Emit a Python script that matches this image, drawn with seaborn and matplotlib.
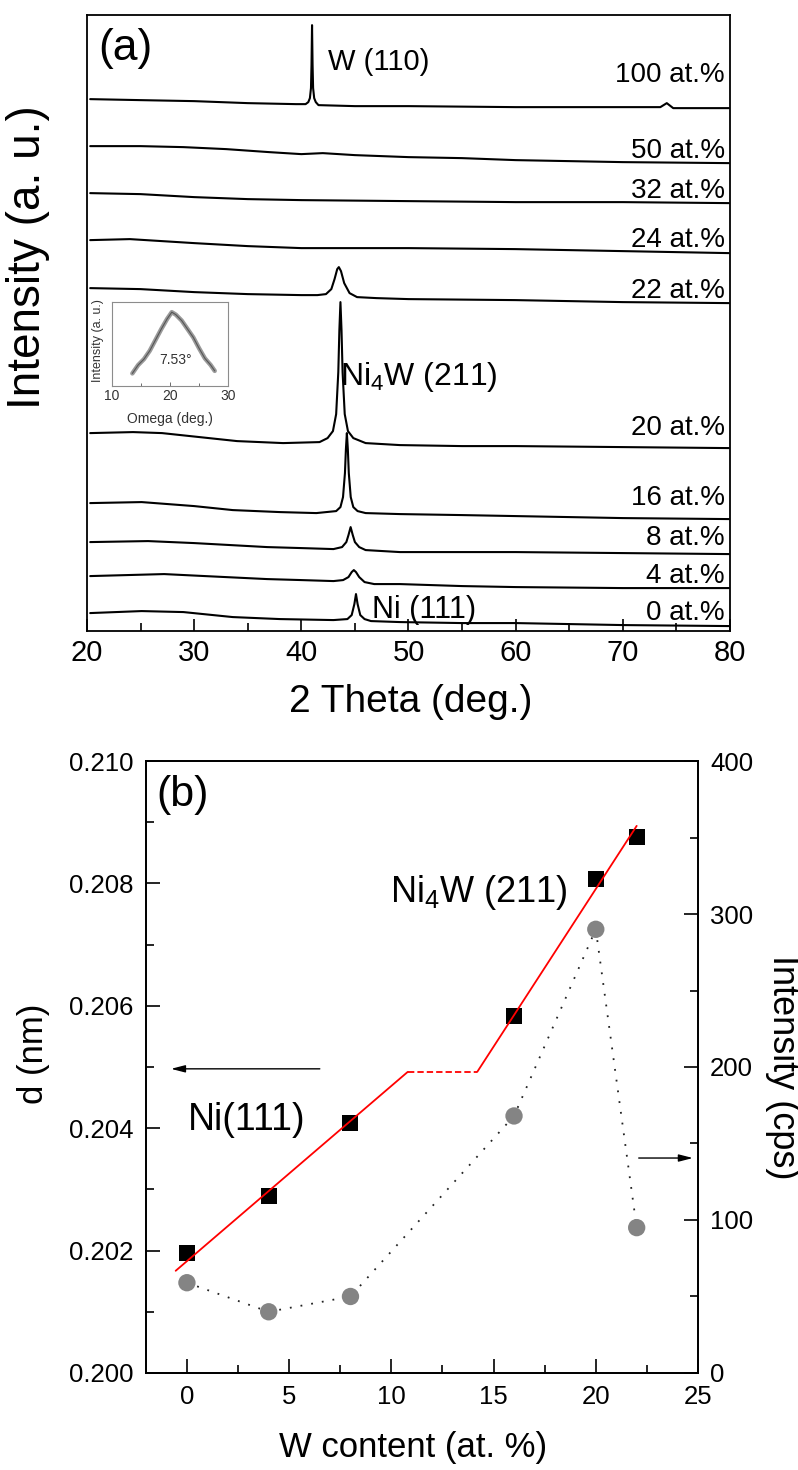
import numpy as np
import matplotlib
matplotlib.use("Agg")
import matplotlib.pyplot as plt
from matplotlib.ticker import MultipleLocator, FormatStrFormatter, NullLocator
import seaborn as sns

# ---------------- (a) XRD patterns, stacked (2 theta in deg., intensity in a.u.) ----------------
theta_w100 = [20.3, 25, 30, 35, 39.5, 40.4, 40.65, 40.8, 40.9, 40.95, 41.0, 41.05, 41.1, 41.2, 41.35,
              41.6, 45, 50, 60, 70, 73.5, 74.1, 74.7, 77, 79.9]
int_w100 = [532, 531, 530, 528, 527, 527, 529, 533, 543, 566, 606, 566, 543, 533, 529,
            526, 525, 525, 524, 524, 524, 528, 523, 523, 523]

theta_w50 = [20.3, 25, 29, 33, 37, 40, 42, 45, 50, 55, 60, 70, 79.9]
int_w50 = [485, 485, 484, 482, 479, 477, 478, 476, 474, 473, 471, 469, 468]

theta_w32 = [20.3, 25, 30, 35, 40, 50, 60, 70, 79.9]
int_w32 = [438, 437, 434, 432, 431, 430, 429, 429, 428]

theta_w24 = [20.3, 24, 30, 35, 40, 45, 50, 60, 70, 79.9]
int_w24 = [391, 392, 388, 385, 383, 383, 383, 382, 380, 378]

theta_w22 = [20.3, 25, 30, 35, 40, 41.5, 42.3, 42.8, 43.1, 43.35, 43.5, 43.7, 44.0, 44.5, 45.2, 47, 50, 60, 70, 79.9]
int_w22 = [343, 342, 339, 337, 336, 336, 337, 342, 352, 362, 364, 360, 348, 338, 334, 333, 332, 331, 329, 328]

theta_w20 = [20.3, 24.3, 27, 30.5, 34, 38.3, 41.7, 42.45, 42.95, 43.25, 43.45, 43.55, 43.65, 43.75,
             43.85, 44.05, 44.35, 44.85, 46, 49.2, 55, 60, 70, 79.9]
int_w20 = [198, 199, 198, 194, 190, 188, 189, 193, 200, 217, 259, 301, 329, 301,
           259, 217, 200, 193, 188, 186, 185, 185, 184, 183]

theta_w16 = [20.3, 25.1, 30, 33.6, 38, 41.4, 43.25, 43.65, 43.89, 44.07, 44.16, 44.25, 44.34, 44.43,
             44.61, 44.85, 45.25, 46, 49.2, 55, 60, 70, 79.9]
int_w16 = [128, 129, 125, 121, 119, 118, 120, 124, 134, 158, 182, 198, 182, 158,
           134, 124, 120, 118, 117, 116, 115, 113, 112]

theta_w8 = [20.3, 25.7, 30, 36.8, 40, 43.0, 43.8, 44.2, 44.4, 44.6, 44.8, 45.0, 45.4, 46.0, 49.2, 55, 60, 70, 79.9]
int_w8 = [89, 90, 88, 84, 83, 82, 84, 89, 96, 104, 96, 89, 84, 81, 79, 79, 79, 78, 77]

theta_w4 = [20.3, 27.2, 31, 36.8, 40, 43.0, 43.9, 44.4, 44.7, 44.9, 45.1, 45.4, 45.9, 46.8, 49.2, 55, 60, 70, 79.9]
int_w4 = [55, 57, 55, 52, 51, 50, 51, 54, 59, 61, 59, 54, 49, 47, 47, 45, 44, 43, 43]

theta_w0 = [20.3, 25.1, 29, 33.6, 38, 43.0, 44.3, 44.7, 44.95, 45.1, 45.25, 45.5, 45.9, 46.5, 49.2, 55, 60, 70, 79.9]
int_w0 = [18, 20, 19, 14, 12, 11, 12, 16, 27, 37, 27, 16, 12, 10, 9, 8, 8, 6, 5]

trace_labels = ["100 at.%", "50 at.%", "32 at.%", "24 at.%", "22 at.%",
                "20 at.%", "16 at.%", "8 at.%", "4 at.%", "0 at.%"]
label_levels = [549, 473, 433, 384, 333, 196, 126, 86, 48, 11]

# rocking curve (inset)
omega = [13.5, 14.5, 15.5, 16.5, 17.5, 18.5, 19.5, 20.3, 21, 22, 23, 24, 25, 26, 27, 27.7]
omega_int = [15, 25, 32, 42, 55, 68, 80, 88, 85, 78, 68, 58, 45, 33, 25, 18]

# ---------------- (b) d-spacing and peak intensity vs. W content ----------------
w_content = [0, 4, 8, 16, 20, 22]
d_spacing = [0.20196, 0.20289, 0.20409, 0.20583, 0.20807, 0.20876]
peak_int = [59, 40, 50, 168, 290, 95]

fit_low_x = [-0.55, 10.8]
fit_low_d = [0.20167, 0.20492]
plateau_x = [10.8, 14.2]
plateau_d = [0.20492, 0.20492]
fit_high_x = [14.2, 22.0]
fit_high_d = [0.20492, 0.20894]

# ---------------- style ----------------
sns.set_theme(style="ticks")
plt.rcParams["font.family"] = ["Liberation Sans", "DejaVu Sans"]
plt.rcParams["mathtext.fontset"] = "custom"
plt.rcParams["mathtext.rm"] = "Liberation Sans"
plt.rcParams["mathtext.it"] = "Liberation Sans:italic"
plt.rcParams["mathtext.bf"] = "Liberation Sans:bold"
for key in ("axes.edgecolor", "text.color", "axes.labelcolor", "xtick.color", "ytick.color",
            "xtick.labelcolor", "ytick.labelcolor"):
    plt.rcParams[key] = "black"

fig = plt.figure(figsize=(7.98, 14.70), dpi=100)

# ================= panel (a) =================
ax_a = fig.add_axes([0.1090, 0.5707, 0.8058, 0.4190])
traces = [(theta_w100, int_w100), (theta_w50, int_w50), (theta_w32, int_w32), (theta_w24, int_w24),
          (theta_w22, int_w22), (theta_w20, int_w20), (theta_w16, int_w16), (theta_w8, int_w8),
          (theta_w4, int_w4), (theta_w0, int_w0)]
for tx, ty in traces:
    sns.lineplot(x=tx, y=ty, ax=ax_a, color="black", linewidth=1.5,
                 estimator=None, sort=False, legend=False)

ax_a.set_xlim(20, 80)
ax_a.set_ylim(0, 616)
ax_a.yaxis.set_major_locator(NullLocator())
ax_a.xaxis.set_major_locator(MultipleLocator(10))
ax_a.xaxis.set_minor_locator(MultipleLocator(5))
ax_a.tick_params(axis="x", which="major", direction="in", length=9, width=1.2,
                 labelsize=21, pad=6, top=False)
ax_a.tick_params(axis="x", which="minor", direction="in", length=6, width=1.2, top=False)
for sp in ax_a.spines.values():
    sp.set_linewidth(1.3)
    sp.set_color("black")

for txt, lev in zip(trace_labels, label_levels):
    ax_a.text(79.5, lev, txt, ha="right", va="baseline", fontsize=20)

ax_a.text(21.03, 571, "(a)", ha="left", va="baseline", fontsize=32)
ax_a.text(42.48, 561, "W (110)", ha="left", va="baseline", fontsize=21)
ax_a.text(43.6, 246, r"Ni$_4$W (211)", ha="left", va="baseline", fontsize=23)
ax_a.text(46.59, 13, "Ni (111)", ha="left", va="baseline", fontsize=22)

ax_a.set_xlabel("2 Theta (deg.)", fontsize=28)
ax_a.xaxis.set_label_coords(0.504, -0.0860)
ax_a.set_ylabel("Intensity (a. u.)", fontsize=33)
ax_a.yaxis.set_label_coords(-0.058, 0.607)

# inset: rocking curve
ax_in = fig.add_axes([0.1404, 0.7374, 0.1454, 0.0571])
sns.lineplot(x=omega, y=omega_int, ax=ax_in, color="#9a9a9a", linewidth=3.2,
             estimator=None, sort=False, legend=False)
sns.lineplot(x=omega, y=omega_int, ax=ax_in, color="#555555", linewidth=0.8,
             estimator=None, sort=False, legend=False)
ax_in.set_xlim(10, 30)
ax_in.set_ylim(0, 100)
ax_in.xaxis.set_major_locator(MultipleLocator(10))
ax_in.xaxis.set_minor_locator(MultipleLocator(5))
ax_in.yaxis.set_major_locator(NullLocator())
ax_in.tick_params(axis="x", which="major", direction="in", length=3, width=0.6,
                  labelsize=10, pad=2, colors="#555555", labelcolor="#333333")
ax_in.tick_params(axis="x", which="minor", direction="in", length=2, width=0.6, colors="#555555")
for sp in ax_in.spines.values():
    sp.set_linewidth(0.8)
    sp.set_color("#8c8c8c")
ax_in.text(21.0, 31, "7.53°", ha="center", va="center", fontsize=10, color="#333333")
ax_in.set_xlabel("Omega (deg.)", fontsize=10, color="#333333")
ax_in.xaxis.set_label_coords(0.5, -0.31)
ax_in.set_ylabel("Intensity (a. u.)", fontsize=9, color="#333333")
ax_in.yaxis.set_label_coords(-0.07, 0.536)

# ================= panel (b) =================
ax_b = fig.add_axes([0.1830, 0.0660, 0.6917, 0.4163])
ax2 = ax_b.twinx()

sns.scatterplot(x=w_content, y=d_spacing, ax=ax_b, marker="s", s=132, color="black",
                edgecolor="none", linewidth=0, zorder=3, legend=False)
sns.lineplot(x=fit_low_x, y=fit_low_d, ax=ax_b, color="red", linewidth=1.3,
             estimator=None, legend=False, zorder=4)
sns.lineplot(x=fit_high_x, y=fit_high_d, ax=ax_b, color="red", linewidth=1.3,
             estimator=None, legend=False, zorder=4)
sns.lineplot(x=plateau_x, y=plateau_d, ax=ax_b, color="red", linewidth=1.3,
             linestyle=(0, (3.5, 1.7)), estimator=None, legend=False, zorder=4)

sns.lineplot(x=w_content, y=peak_int, ax=ax2, color="#222222", linewidth=1.3,
             linestyle=(0, (1, 5)), estimator=None, legend=False, zorder=2)
sns.scatterplot(x=w_content, y=peak_int, ax=ax2, marker="o", s=156, color="#848484",
                edgecolor="none", linewidth=0, zorder=3, legend=False)

ax_b.set_xlim(-2, 25)
ax_b.set_ylim(0.200, 0.210)
ax2.set_ylim(0, 400)
ax_b.xaxis.set_major_locator(MultipleLocator(5))
ax_b.xaxis.set_minor_locator(MultipleLocator(2.5))
ax_b.yaxis.set_major_locator(MultipleLocator(0.002))
ax_b.yaxis.set_minor_locator(MultipleLocator(0.001))
ax_b.yaxis.set_major_formatter(FormatStrFormatter("%.3f"))
ax2.yaxis.set_major_locator(MultipleLocator(100))
ax2.yaxis.set_minor_locator(MultipleLocator(50))

ax_b.tick_params(axis="both", which="major", direction="in", length=10, width=1.2,
                 labelsize=18.5, pad=9, top=False, right=False)
ax_b.tick_params(axis="both", which="minor", direction="in", length=6, width=1.2,
                 top=False, right=False)
ax2.tick_params(axis="y", which="major", direction="in", length=10, width=1.2,
                labelsize=18.5, pad=8.6)
ax2.tick_params(axis="y", which="minor", direction="in", length=6, width=1.2)
for a in (ax_b, ax2):
    for sp in a.spines.values():
        sp.set_linewidth(1.3)
        sp.set_color("black")

arrow_style = dict(arrowstyle="-|>,head_length=0.7,head_width=0.18", color="black",
                   lw=1.0, shrinkA=0, shrinkB=0)
ax_b.annotate("", xy=(-0.78, 0.20497), xytext=(6.5, 0.20497), arrowprops=arrow_style)
ax2.annotate("", xy=(24.75, 140.5), xytext=(22.1, 140.5), arrowprops=arrow_style)

ax_b.text(-1.47, 0.20926, "(b)", ha="left", va="baseline", fontsize=31)
ax_b.text(9.95, 0.20770, r"Ni$_4$W (211)", ha="left", va="baseline", fontsize=26)
ax_b.text(0.05, 0.20397, "Ni(111)", ha="left", va="baseline", fontsize=27)

ax_b.set_xlabel("W content (at. %)", fontsize=25)
ax_b.xaxis.set_label_coords(0.4846, -0.0948)
ax_b.set_ylabel("d (nm)", fontsize=25)
ax_b.yaxis.set_label_coords(-0.174, 0.521)
ax2.set_ylabel("Intensity (cps)", fontsize=26, rotation=-90, va="bottom")
ax2.yaxis.set_label_coords(1.121, 0.5)

fig.savefig("out.png", dpi=100)
